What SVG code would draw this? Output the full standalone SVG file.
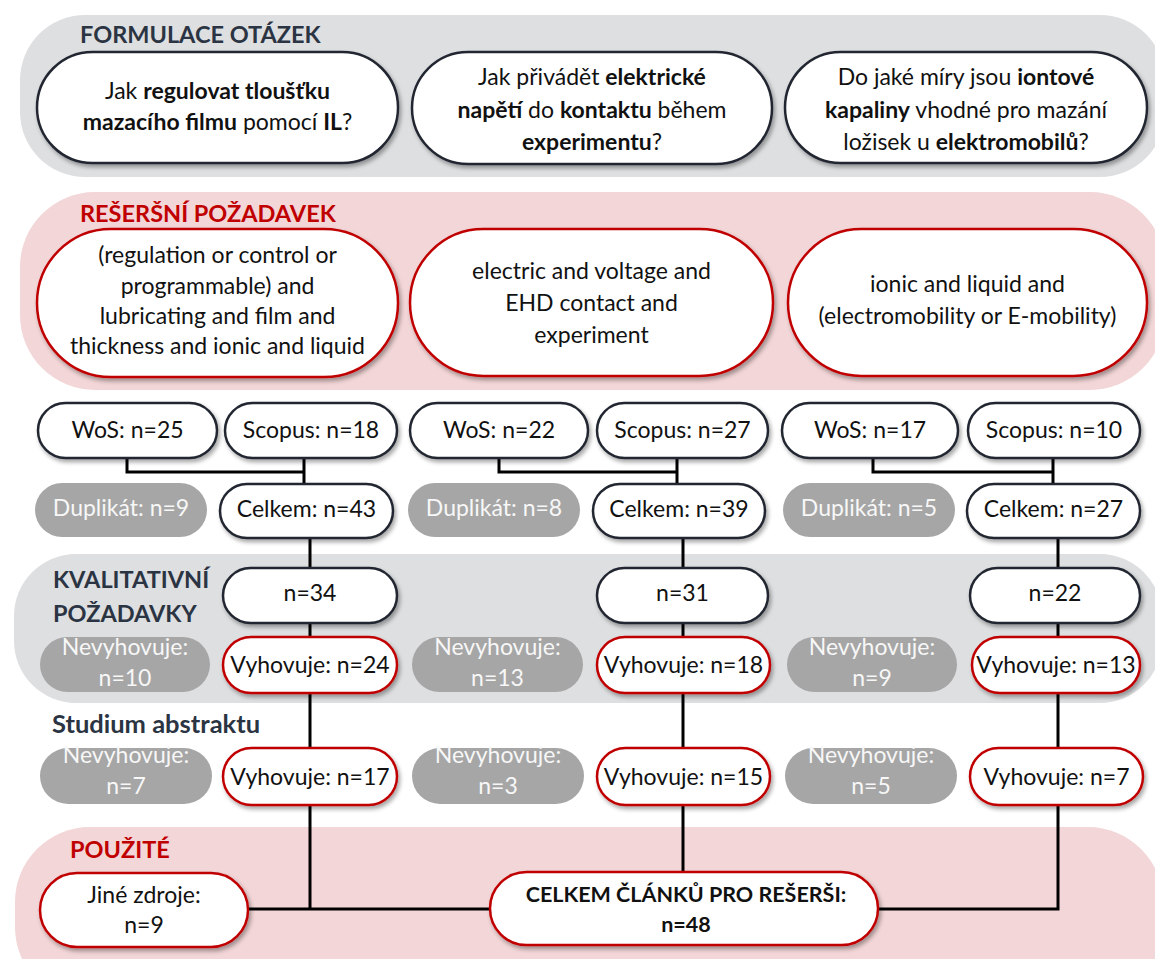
<svg xmlns="http://www.w3.org/2000/svg" width="1155" height="959" viewBox="0 0 1155 959">
<defs>
<filter id="sh" x="-10%" y="-20%" width="125%" height="150%">
<feDropShadow dx="2" dy="3" stdDeviation="2.2" flood-color="#000" flood-opacity="0.35"/>
</filter>
<style>
text{font-family:Lato,"Noto Sans",sans-serif;font-size:23px;fill:#111;text-anchor:middle}
.b{font-weight:bold}
.hd{font-size:23.5px;font-weight:bold;fill:#2B3442;text-anchor:start}
.hr{font-size:23.5px;font-weight:bold;fill:#C00000;text-anchor:start}
.bandg{fill:#DEDFE1}
.bandp{fill:#F3D6D7}
.n{fill:#fff;stroke:#232830;stroke-width:2.5;filter:url(#sh)}
.r{fill:#fff;stroke:#C00000;stroke-width:2.5;filter:url(#sh)}
.g{fill:#A6A6A6}
.w{fill:#F7F7F7}
.c{fill:none;stroke:#000;stroke-width:3}
</style>
</defs>
<g id="bands">
<rect class="bandg" x="20" y="15" width="1145" height="162" rx="65"/>
<rect class="bandp" x="20" y="192" width="1145" height="198" rx="75"/>
<rect class="bandg" x="14" y="554" width="1148" height="149" rx="62"/>
<rect class="bandp" x="15" y="827" width="1148" height="175" rx="75"/>
<text class="hd" x="80" y="43">FORMULACE OTÁZEK</text>
<text class="hr" x="80" y="222">REŠERŠNÍ POŽADAVEK</text>
<text class="hd" x="53" y="588">KVALITATIVNÍ</text>
<text class="hd" x="53" y="622">POŽADAVKY</text>
<text class="hd" x="52" y="733" style="font-size:25.5px">Studium abstraktu</text>
<text class="hr" x="70" y="858">POUŽITÉ</text>
</g>
<g id="connectors">
<path class="c" d="M127 458V472H304M304 458V484"/>
<path class="c" d="M499 458V472H677M677 458V484"/>
<path class="c" d="M873 458V472H1053M1053 458V484"/>
<path class="c" d="M310 538V909M248 909H490"/>
<path class="c" d="M683 538V872"/>
<path class="c" d="M1058 538V909H878"/>
</g>
<g id="q1"><rect class="n" x="37" y="52" width="361" height="111" rx="55.5"/>
<text x="217.5" y="99">Jak <tspan class="b">regulovat tloušťku</tspan></text>
<text x="217.5" y="130"><tspan class="b">mazacího filmu</tspan> pomocí <tspan class="b">IL</tspan>?</text></g>
<g id="q2"><rect class="n" x="412" y="52" width="360" height="112" rx="56"/>
<text x="592" y="85">Jak přivádět <tspan class="b">elektrické</tspan></text>
<text x="592" y="118"><tspan class="b">napětí</tspan> do <tspan class="b">kontaktu</tspan> během</text>
<text x="592" y="150"><tspan class="b">experimentu</tspan>?</text></g>
<g id="q3"><rect class="n" x="785" y="52" width="362" height="111" rx="55.5"/>
<text x="966" y="85">Do jaké míry jsou <tspan class="b">iontové</tspan></text>
<text x="966" y="118"><tspan class="b">kapaliny</tspan> vhodné pro mazání</text>
<text x="966" y="150">ložisek u <tspan class="b">elektromobilů</tspan>?</text></g>
<g id="s1"><rect class="r" x="37" y="229" width="361" height="148" rx="74"/>
<text x="217.5" y="263">(regulation or control or</text>
<text x="217.5" y="294">programmable) and</text>
<text x="217.5" y="324">lubricating and film and</text>
<text x="217.5" y="354">thickness and ionic and liquid</text></g>
<g id="s2"><rect class="r" x="410" y="229" width="363" height="147" rx="73.5"/>
<text x="591.5" y="279">electric and voltage and</text>
<text x="591.5" y="311">EHD contact and</text>
<text x="591.5" y="343">experiment</text></g>
<g id="s3"><rect class="r" x="788" y="229" width="359" height="147" rx="73.5"/>
<text x="967.5" y="292">ionic and liquid and</text>
<text x="967.5" y="324">(electromobility or E-mobility)</text></g>
<g id="wos1"><rect class="n" x="38" y="403" width="179" height="55" rx="27.5"/><text x="127.5" y="438">WoS: n=25</text></g>
<g id="sco1"><rect class="n" x="225" y="403" width="172" height="55" rx="27.5"/><text x="311" y="438">Scopus: n=18</text></g>
<g id="wos2"><rect class="n" x="410" y="403" width="178" height="55" rx="27.5"/><text x="499" y="438">WoS: n=22</text></g>
<g id="sco2"><rect class="n" x="597" y="403" width="171" height="55" rx="27.5"/><text x="682.5" y="438">Scopus: n=27</text></g>
<g id="wos3"><rect class="n" x="782" y="403" width="176" height="55" rx="27.5"/><text x="870" y="438">WoS: n=17</text></g>
<g id="sco3"><rect class="n" x="968" y="403" width="172" height="55" rx="27.5"/><text x="1054" y="438">Scopus: n=10</text></g>
<g id="dup1"><rect class="g" x="35" y="483" width="172" height="54" rx="27"/><text class="w" x="121" y="516">Duplikát: n=9</text></g>
<g id="cel1"><rect class="n" x="220" y="484" width="173" height="54" rx="27"/><text x="306.5" y="517">Celkem: n=43</text></g>
<g id="dup2"><rect class="g" x="408" y="483" width="172" height="54" rx="27"/><text class="w" x="494" y="516">Duplikát: n=8</text></g>
<g id="cel2"><rect class="n" x="593" y="484" width="172" height="54" rx="27"/><text x="679" y="517">Celkem: n=39</text></g>
<g id="dup3"><rect class="g" x="783" y="483" width="172" height="54" rx="27"/><text class="w" x="869" y="516">Duplikát: n=5</text></g>
<g id="cel3"><rect class="n" x="967" y="484" width="173" height="54" rx="27"/><text x="1053.5" y="517">Celkem: n=27</text></g>
<g id="k1"><rect class="n" x="223" y="568" width="174" height="55" rx="27.5"/><text x="310" y="601">n=34</text></g>
<g id="k2"><rect class="n" x="597" y="568" width="171" height="55" rx="27.5"/><text x="682.5" y="601">n=31</text></g>
<g id="k3"><rect class="n" x="970" y="568" width="170" height="55" rx="27.5"/><text x="1055" y="601">n=22</text></g>
<g id="kn1"><rect class="g" x="40" y="637" width="170" height="55" rx="27.5"/><text class="w" x="125" y="655">Nevyhovuje:</text><text class="w" x="125" y="686">n=10</text></g>
<g id="ky1"><rect class="r" x="223" y="637" width="174" height="56" rx="28"/><text x="310" y="673">Vyhovuje: n=24</text></g>
<g id="kn2"><rect class="g" x="412" y="637" width="171" height="55" rx="27.5"/><text class="w" x="497.5" y="655">Nevyhovuje:</text><text class="w" x="497.5" y="686">n=13</text></g>
<g id="ky2"><rect class="r" x="597" y="637" width="173" height="56" rx="28"/><text x="683.5" y="673">Vyhovuje: n=18</text></g>
<g id="kn3"><rect class="g" x="787" y="637" width="170" height="55" rx="27.5"/><text class="w" x="872" y="655">Nevyhovuje:</text><text class="w" x="872" y="686">n=9</text></g>
<g id="ky3"><rect class="r" x="972" y="637" width="168" height="56" rx="28"/><text x="1056" y="673">Vyhovuje: n=13</text></g>
<g id="an1"><rect class="g" x="40" y="748" width="172" height="56" rx="28"/><text class="w" x="126" y="763">Nevyhovuje:</text><text class="w" x="126" y="794">n=7</text></g>
<g id="ay1"><rect class="r" x="223" y="748" width="174" height="57" rx="28.5"/><text x="310" y="785">Vyhovuje: n=17</text></g>
<g id="an2"><rect class="g" x="412" y="748" width="172" height="56" rx="28"/><text class="w" x="498" y="763">Nevyhovuje:</text><text class="w" x="498" y="794">n=3</text></g>
<g id="ay2"><rect class="r" x="597" y="748" width="173" height="57" rx="28.5"/><text x="683.5" y="785">Vyhovuje: n=15</text></g>
<g id="an3"><rect class="g" x="785" y="748" width="172" height="56" rx="28"/><text class="w" x="871" y="763">Nevyhovuje:</text><text class="w" x="871" y="794">n=5</text></g>
<g id="ay3"><rect class="r" x="970" y="748" width="173" height="57" rx="28.5"/><text x="1056.5" y="785">Vyhovuje: n=7</text></g>
<g id="jine"><rect class="r" x="40" y="873" width="208" height="74" rx="37"/><text x="144" y="903">Jiné zdroje:</text><text x="144" y="933">n=9</text></g>
<g id="total"><rect class="r" x="490" y="872" width="388" height="73" rx="36.5"/><text class="b" x="686" y="902" style="font-size:21.5px">CELKEM ČLÁNKŮ PRO REŠERŠI:</text><text class="b" x="686" y="932" style="font-size:21.5px">n=48</text></g>
</svg>
